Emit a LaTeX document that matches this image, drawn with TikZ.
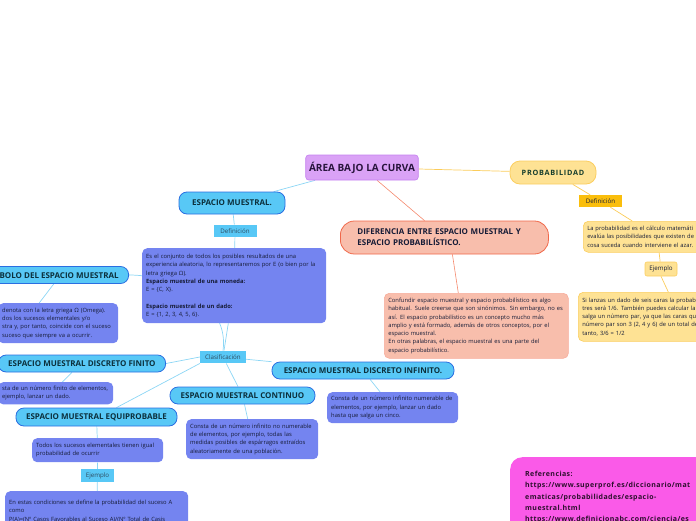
\documentclass[tikz,border=0pt]{standalone}
\usepackage{fontspec}
\setmainfont{Open Sans}
\usepackage{tikz}
\usetikzlibrary{positioning, calc, backgrounds}
\definecolor{rootfill}{RGB}{218,162,246}
\definecolor{rootdraw}{RGB}{196,128,240}
\definecolor{roottext}{RGB}{40,20,60}
\definecolor{skyfill}{RGB}{88,200,246}
\definecolor{skydraw}{RGB}{42,110,225}
\definecolor{skyline}{RGB}{140,214,245}
\definecolor{lilacfill}{RGB}{116,132,240}
\definecolor{salmonfill}{RGB}{248,190,172}
\definecolor{salmondraw}{RGB}{240,104,74}
\definecolor{salmonline}{RGB}{244,136,108}
\definecolor{sandfill}{RGB}{254,226,148}
\definecolor{sanddraw}{RGB}{251,206,96}
\definecolor{sandline}{RGB}{251,204,90}
\definecolor{amberfill}{RGB}{250,190,12}
\definecolor{pinkfill}{RGB}{250,90,232}
\definecolor{pinktext}{RGB}{45,15,45}
\definecolor{darktext}{RGB}{22,28,55}
\definecolor{tealtext}{RGB}{12,48,60}
\definecolor{labeltext}{RGB}{45,75,95}
\definecolor{greentext}{RGB}{22,62,45}

\tikzset{
  txt/.style={anchor=north west, align=left, inner xsep=4pt, inner ysep=4pt, rounded corners=5pt,
    font=\fontsize{5.8}{8.3}\selectfont, text=darktext},
  bluebox/.style={txt, fill=lilacfill},
  salmonbox/.style={txt, fill=salmonfill, draw=salmondraw!55, line width=0.6pt},
  sandbox/.style={txt, fill=sandfill, draw=sanddraw, line width=0.6pt},
  pinkbox/.style={txt, fill=pinkfill, rounded corners=12pt, inner xsep=15pt, inner ysep=2pt,
    font=\fontsize{7}{11.3}\selectfont\bfseries\addfontfeatures{LetterSpace=6}, text=pinktext},
  root/.style={fill=rootfill, draw=rootdraw, line width=0.6pt, rounded corners=3pt,
    minimum width=112pt, minimum height=25pt, font=\fontsize{10}{12}\selectfont\bfseries, text=roottext},
  bluetitle/.style={fill=skyfill, draw=skydraw, line width=0.8pt, rounded corners=8pt,
    inner xsep=10pt, inner ysep=0pt, minimum height=17pt,
    font=\fontsize{8}{10}\selectfont\bfseries, text=tealtext},
  sandtitle/.style={fill=sandfill, draw=sanddraw, line width=0.8pt, rounded corners=10pt,
    inner sep=0pt, font=\fontsize{7.3}{9}\selectfont\bfseries\addfontfeatures{LetterSpace=10}, text=greentext},
  salmontitle/.style={fill=salmonfill, draw=salmondraw, line width=0.8pt, rounded corners=14pt,
    align=left, inner xsep=17pt, inner ysep=0pt, font=\fontsize{8}{11}\selectfont\bfseries, text=darktext},
  bluetag/.style={fill=skyfill, inner sep=0pt, minimum height=12.5pt,
    font=\fontsize{6.2}{7}\selectfont, text=labeltext},
  ambertag/.style={fill=amberfill, inner sep=0pt, minimum height=12pt,
    font=\fontsize{6.2}{7}\selectfont, text=darktext},
  sandtag/.style={fill=sandfill, draw=sanddraw, line width=0.6pt, rounded corners=2pt, inner sep=0pt,
    minimum height=14pt, font=\fontsize{6.2}{7}\selectfont, text=darktext},
  skylink/.style={draw=skyline, line width=0.7pt},
  salmonlink/.style={draw=salmonline, line width=0.6pt},
  sandlink/.style={draw=sandline, line width=0.7pt}
}

\begin{document}
\begin{tikzpicture}[x=1pt, y=-1pt]
  \useasboundingbox (0,0) rectangle (696,520);
  \clip (0,0) rectangle (696,520);

  \node[root] (area) at (362,167.5) {ÁREA BAJO LA CURVA};

  \node[sandtitle, minimum width=86pt, minimum height=23pt] (prob) at (553,172.5) {PROBABILIDAD};
  \node[ambertag, minimum width=43pt] (probdef) at (600.5,201) {Definición};
  \node[sandbox, text width=140pt, minimum height=31pt] (probtext) at (583,221)
    {La probabilidad es el cálculo matemáti\\evalúa las posibilidades que existen de\\cosa suceda cuando interviene el azar.};
  \node[sandtag, minimum width=32pt] (probej) at (661,269) {Ejemplo};
  \node[sandbox, text width=140pt, minimum height=49pt] (probex) at (578,292)
    {Si lanzas un dado de seis caras la probab\\tres será 1/6. También puedes calcular la\\salga un número par, ya que las caras qu\\número par son 3 (2, 4 y 6) de un total de\\tanto, 3/6 = 1/2};

  \node[bluetitle, minimum width=106pt, minimum height=22pt] (esp) at (232,203) {ESPACIO MUESTRAL.};
  \node[bluetag, minimum width=43pt] (espdef) at (235,231) {Definición};
  \node[bluebox, text width=176pt, minimum height=75pt] (espbox) at (142,248)
    {Es el conjunto de todos los posibles resultados de una\\experiencia aleatoria, lo representaremos por E (o bien por la\\letra griega Ω).\\
     \textbf{Espacio muestral de una moneda:}\\E = \{C, X\}.\\[8.3pt]
     \textbf{Espacio muestral de un dado:}\\E = \{1, 2, 3, 4, 5, 6\}.};
  \node[bluetag, minimum width=46pt] (clasif) at (223,357) {Clasificación};

  \node[bluetitle, anchor=east] (simbolo) at (129,275) {SÍMBOLO DEL ESPACIO MUESTRAL};
  \node[bluebox, text width=112pt, minimum height=40pt] (simbox) at (-2,303)
    {denota con la letra griega Ω (Omega).\\dos los sucesos elementales y/o\\stra y, por tanto, coincide con el suceso\\ suceso que siempre va a ocurrir.};

  \node[bluetitle, anchor=east] (finito) at (166,363.5) {ESPACIO MUESTRAL DISCRETO FINITO};
  \node[bluebox, text width=107pt, minimum height=22pt] (finbox) at (-2,382)
    {sta de un número finito de elementos,\\ejemplo, lanzar un dado.};

  \node[bluetitle, minimum width=161pt, minimum height=18pt] (equi) at (96.5,417) {ESPACIO MUESTRAL EQUIPROBABLE};
  \node[bluebox, text width=123pt, minimum height=24pt] (todos) at (32,438)
    {Todos los sucesos elementales tienen igual\\probabilidad de ocurrir};
  \node[bluetag, minimum width=33pt] (todosej) at (97.5,475.5) {Ejemplo};
  \node[bluebox, text width=175pt, minimum height=40pt] (estas) at (5,491)
    {En estas condiciones se define la probabilidad del suceso A\\como\\P(A)=(Nº Casos Favorables al Suceso A)/(Nº Total de Casis};

  \node[bluetitle, minimum width=145pt] (continuo) at (242.5,395.5) {ESPACIO MUESTRAL CONTINUO};
  \node[bluebox, text width=124pt, minimum height=40pt] (contbox) at (186,419)
    {Consta de un número infinito no numerable\\de elementos, por ejemplo, todas las\\medidas posibles de espárragos extraídos\\aleatoriamente de una población.};

  \node[bluetitle, minimum width=182pt] (infinito) at (363,370.5) {ESPACIO MUESTRAL DISCRETO INFINITO.};
  \node[bluebox, text width=123pt, minimum height=31pt] (infbox) at (327,392)
    {Consta de un número infinito numerable de\\elementos, por ejemplo, lanzar un dado\\hasta que salga un cinco.};

  \node[salmontitle, anchor=west, text width=174pt, minimum height=33pt] (dif) at (340,237.5)
    {DIFERENCIA ENTRE ESPACIO MUESTRAL Y\\ESPACIO PROBABILÍSTICO.};
  \node[salmonbox, text width=176pt, minimum height=65pt] (confbox) at (384,293)
    {Confundir espacio muestral y espacio probabilístico es algo\\habitual. Suele creerse que son sinónimos. Sin embargo, no es\\así. El espacio probabilístico es un concepto mucho más\\amplio y está formado, además de otros conceptos, por el\\espacio muestral.\\En otras palabras, el espacio muestral es una parte del\\espacio probabilístico.};

  \node[pinkbox, text width=200pt, minimum height=80pt] (refs) at (510,457)
    {Referencias:\\https://www.superprof.es/diccionario/mat\\ematicas/probabilidades/espacio-\\muestral.html\\https://www.definicionabc.com/ciencia/es};

  \begin{scope}[on background layer]
    \draw[sandlink] (area) -- (prob);
    \draw[sandlink] (prob) -- (probdef);
    \draw[sandlink] (probdef) -- (probtext);
    \draw[sandlink] (probtext) -- (probej);
    \draw[sandlink] (probej.south) -- ([xshift=16pt]probex.north);

    \draw[salmonlink] (area) -- (dif);
    \draw[salmonlink] ([xshift=8pt]dif.south) -- ([xshift=-18pt]confbox.north);

    \draw[skylink] (area) -- (esp);
    \draw[skylink] (esp) -- (espdef);
    \draw[skylink] (espdef) -- (espbox);
    \draw[skylink] (espbox) -- (clasif);
    \draw[skylink] (clasif.north) to[out=82, in=0] (simbolo.east);
    \draw[skylink] ([xshift=2pt]simbolo.south) -- ([xshift=-19pt]simbox.north);
    \draw[skylink] (clasif.west) -- (finito.east);
    \draw[skylink] ([xshift=-94pt]finito.south east) -- ([xshift=-51pt]finbox.north east);
    \draw[skylink] (clasif.south west) -- ([xshift=20pt]equi.north);
    \draw[skylink] (equi) -- (todos);
    \draw[skylink] (todos) -- (todosej);
    \draw[skylink] (todosej) -- (estas);
    \draw[skylink] (clasif) -- (continuo);
    \draw[skylink] (continuo) -- (contbox);
    \draw[skylink] (clasif) -- (infinito);
    \draw[skylink] (infinito) -- (infbox);
  \end{scope}
\end{tikzpicture}
\end{document}
